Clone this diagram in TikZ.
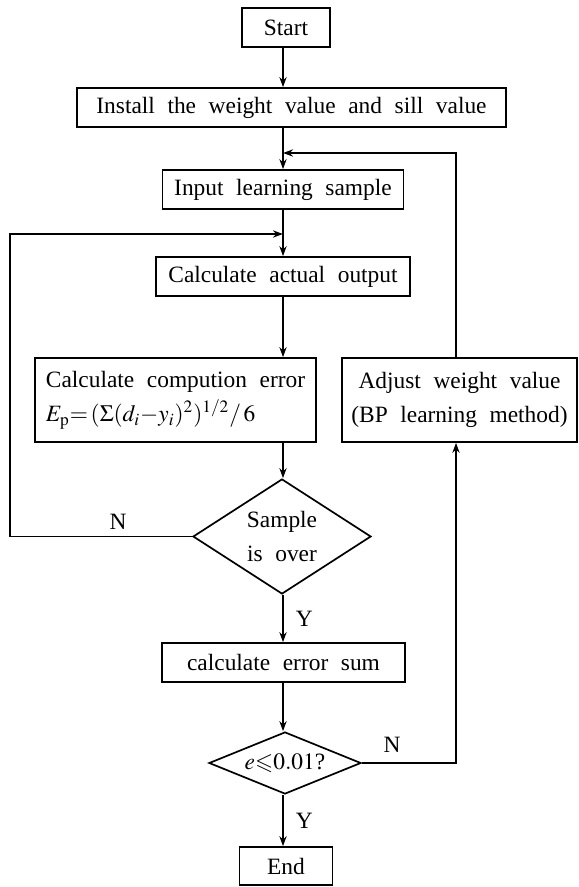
\documentclass[tikz,border=0pt]{standalone}
\usepackage{amssymb}
\usepackage{mathptmx}
\usepackage{fontspec}
\setmainfont{Liberation Serif}
\usetikzlibrary{arrows.meta,shapes.geometric}
\newcommand\widespaces{\spaceskip=6.3pt plus 1pt\relax}

\begin{document}
\begin{tikzpicture}[x=0.5pt,y=-0.5pt,line width=0.85pt,
  >={Stealth[length=5pt,width=3.6pt]},
  every node/.style={font=\fontsize{11.7}{17}\selectfont\widespaces},
  box/.style={draw,inner sep=0pt,minimum height=19.5pt},
  decide/.style={draw,diamond,inner sep=0pt,align=center}]
  \useasboundingbox[fill=white](0,0) rectangle (578,887);
  \node[box,minimum width=44pt] (start) at (286,27.5) {Start};
  \node[box,minimum width=214.5pt] (install) at (291.5,107.5) {Install the weight value and sill value};
  \node[box,minimum width=120.5pt] (input) at (283,189.5) {Input learning sample};
  \node[box,minimum width=127pt] (actual) at (283,276.5) {Calculate actual output};
  \node[box,minimum width=140.5pt,minimum height=42pt,align=left] (comperr) at (175.5,400)
    {Calculate compution error\\$E_{\mathrm{p}}{=}\,(\Sigma(d_i{-}y_i)^2)^{1/2}/\,6$};
  \node[box,minimum width=117.5pt,minimum height=42pt,align=center] (adjust) at (459.5,400)
    {Adjust weight value\\(BP learning method)};
  \node[decide,minimum width=89pt,minimum height=57.5pt,aspect=1.55] (sample) at (282,536.5) {Sample\\is over};
  \node[box,minimum width=121.5pt] (errsum) at (283.5,662.5) {calculate error sum};
  \node[decide,minimum width=76pt,minimum height=31pt,aspect=2.45] (check) at (285,763) {$e{\leqslant}0.01$?};
  \node[box,minimum width=46.5pt,minimum height=19pt] (end) at (286,866) {End};
  % loop corners
  \coordinate (j1) at (283,234);
  \coordinate (j2) at (283,153);
  \coordinate (lft) at (10,234);
  \coordinate (rgt) at (456,153);
  \node (nsample) at (118,522) {N};
  \node (ncheck) at (392,745) {N};
  % main line
  \draw[->] (start.south -| input) -- (input |- install.north);
  \draw[->] (install.south -| input) -- (input);
  \draw[->] (input) -- (actual);
  \draw[->] (actual) -- (actual |- comperr.north);
  \draw[->] (actual |- comperr.south) -- (sample.north -| actual);
  \draw[->] (sample.south -| actual) -- node[right,inner xsep=6pt]{Y} (actual |- errsum.north);
  \draw[->] (errsum.south -| actual) -- (actual |- check.north);
  \draw[->] (check.south -| actual) -- node[right,inner xsep=6pt]{Y} (actual |- end.north);
  % loops back
  \draw[->] (sample.west) -| (lft) -- (j1);
  \draw[->] (check.east) -| (rgt |- adjust.south);
  \draw[->] (rgt |- adjust.north) |- (j2);
\end{tikzpicture}
\end{document}
